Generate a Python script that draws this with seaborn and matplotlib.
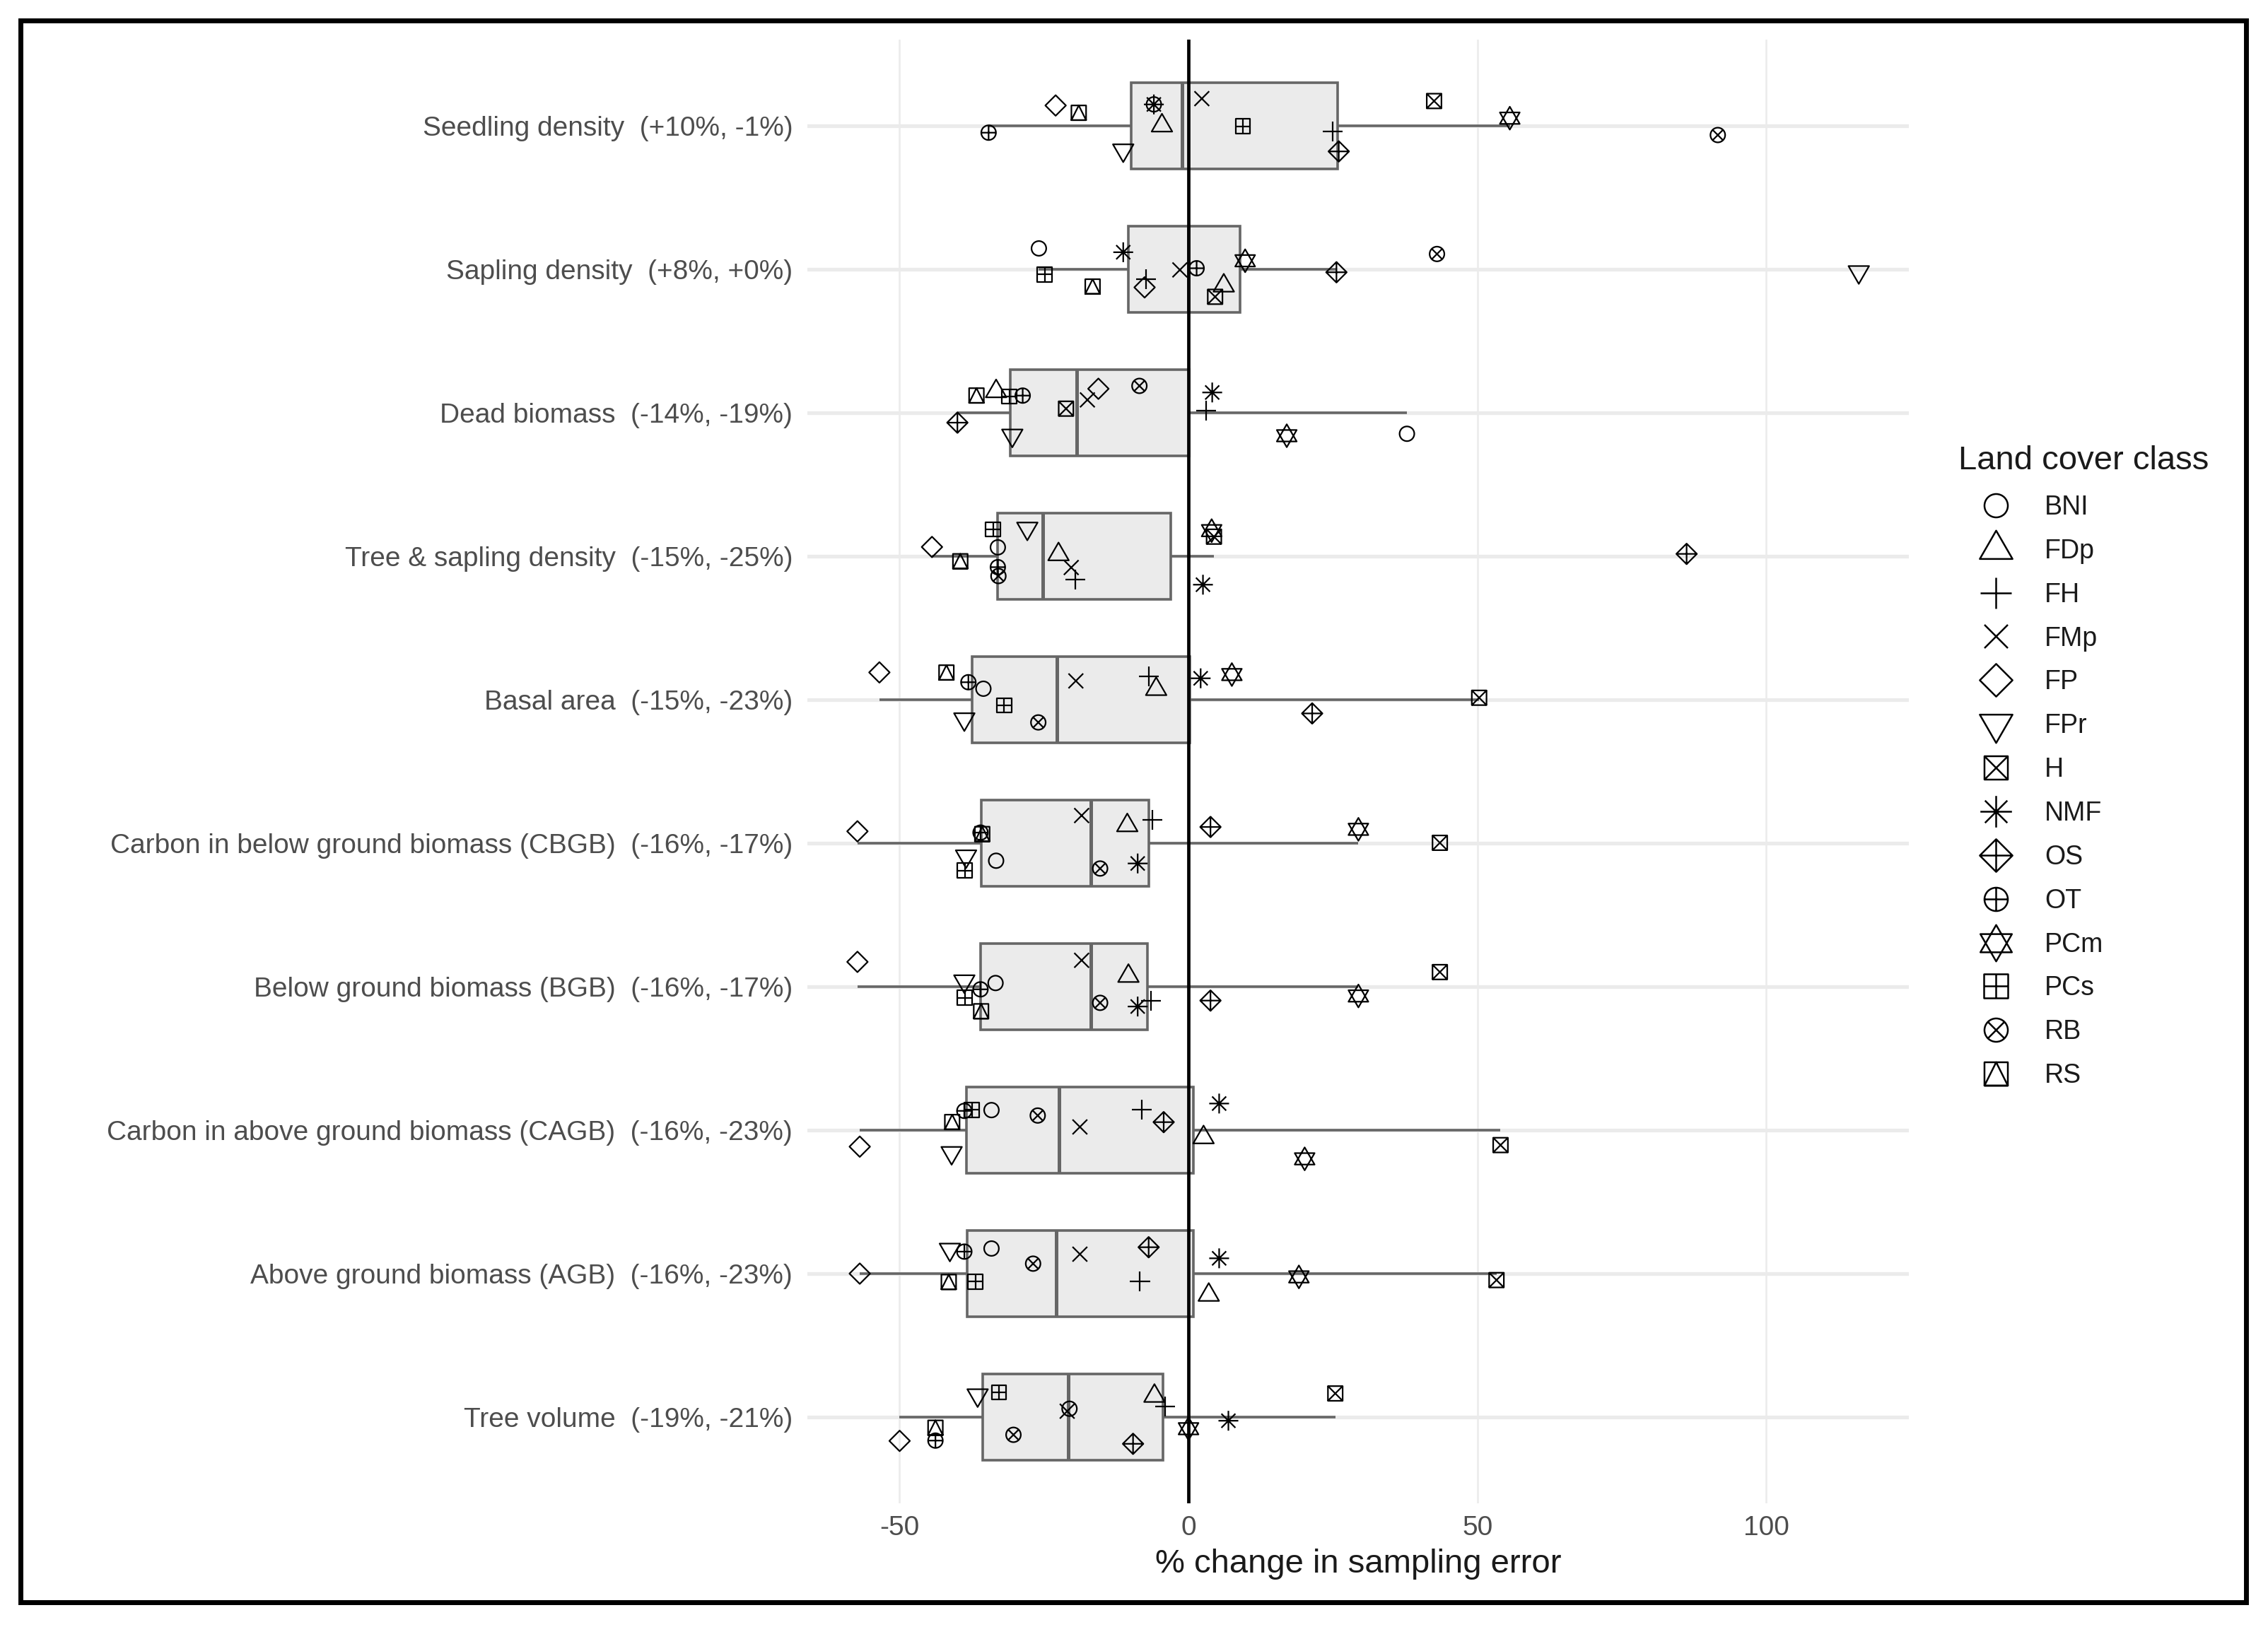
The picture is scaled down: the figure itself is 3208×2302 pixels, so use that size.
import numpy as np
import pandas as pd
import matplotlib
matplotlib.use("Agg")
import matplotlib.pyplot as plt
import seaborn as sns
from matplotlib.path import Path
from matplotlib.markers import MarkerStyle
from matplotlib.transforms import Affine2D
from matplotlib.lines import Line2D
from matplotlib.patches import Rectangle

# ---------------- data ----------------
metrics = [
    "Seedling density  (+10%, -1%)",
    "Sapling density  (+8%, +0%)",
    "Dead biomass  (-14%, -19%)",
    "Tree & sapling density  (-15%, -25%)",
    "Basal area  (-15%, -23%)",
    "Carbon in below ground biomass (CBGB)  (-16%, -17%)",
    "Below ground biomass (BGB)  (-16%, -17%)",
    "Carbon in above ground biomass (CAGB)  (-16%, -23%)",
    "Above ground biomass (AGB)  (-16%, -23%)",
    "Tree volume  (-19%, -21%)",
]
classes = ["BNI", "FDp", "FH", "FMp", "FP", "FPr", "H", "NMF", "OS", "OT", "PCm", "PCs", "RB", "RS"]

#               BNI    FDp    FH     FMp    FP     FPr    H      NMF    OS     OT     PCm    PCs    RB     RS
seedling    = [-6.0,  -4.6,  25.0,   2.3, -23.0, -11.3,  42.5,  -6.0,  26.0, -34.6,  55.6,   9.4,  91.6, -19.0]
sapling     = [-25.9,  6.1,  -7.4,  -1.5,  -7.6, 116.0,   4.6, -11.3,  25.6,   1.4,   9.8, -24.9,  43.0, -16.6]
dead        = [37.8, -33.3,   3.0, -17.5, -15.6, -30.5, -21.2,   4.1, -40.0, -28.7,  17.0, -31.0,  -8.5, -36.7]
tree_sap    = [-33.0, -22.5, -19.6, -20.3, -44.4, -27.9,   4.4,   2.5,  86.2, -33.0,   4.0, -33.8, -32.9, -39.5]
basal       = [-35.5, -5.6,  -6.9, -19.5, -53.5, -38.8,  50.3,   2.1,  21.4, -38.1,   7.5, -31.9, -26.0, -41.9]
cbgb        = [-33.3, -10.6, -6.3, -18.5, -57.3, -38.5,  43.5,  -8.8,   3.8, -36.0,  29.4, -38.7, -15.3, -35.7]
bgb         = [-33.4, -10.4, -6.5, -18.5, -57.3, -38.8,  43.5,  -8.8,   3.8, -36.0,  29.4, -38.7, -15.3, -35.9]
cagb        = [-34.1,  2.6,  -8.1, -18.8, -56.9, -41.0,  54.0,   5.3,  -4.3, -38.8,  20.1, -37.5, -26.1, -40.9]
agb         = [-34.1,  3.5,  -8.4, -18.8, -56.9, -41.3,  53.3,   5.3,  -6.9, -38.8,  19.1, -36.9, -26.9, -41.5]
tree_vol    = [-20.6, -5.9,  -4.0, -21.0, -50.0, -36.5,  25.4,   6.9,  -9.6, -43.8,   0.0, -32.8, -30.3, -43.8]

series = [seedling, sapling, dead, tree_sap, basal, cbgb, bgb, cagb, agb, tree_vol]
x_ticks = [-50, 0, 50, 100]

rows = []
for m, vals in zip(metrics, series):
    for c, v in zip(classes, vals):
        rows.append((m, c, v))
df = pd.DataFrame(rows, columns=["metric", "cls", "value"])

# ---------------- markers (R pch 1..14 look-alikes) ----------------
M, L, C = Path.MOVETO, Path.LINETO, Path.CLOSEPOLY


def poly(pts):
    return Path(pts + [pts[0]], [M] + [L] * (len(pts) - 1) + [C])


def segs(lines):
    verts, codes = [], []
    for a, b in lines:
        verts += [a, b]
        codes += [M, L]
    return Path(verts, codes)


def comp(*paths):
    return Path.make_compound_path(*paths)


circle = Path.unit_circle()
square = poly([(-1, -1), (1, -1), (1, 1), (-1, 1)])
diamond = poly([(0, 1), (1, 0), (0, -1), (-1, 0)])
tri_up = poly([(0, 1), (-0.866, -0.5), (0.866, -0.5)])
tri_dn = poly([(0, -1), (-0.866, 0.5), (0.866, 0.5)])
plus = segs([((-1, 0), (1, 0)), ((0, -1), (0, 1))])
cross = segs([((-1, -1), (1, 1)), ((-1, 1), (1, -1))])
cross_in = segs([((-0.707, -0.707), (0.707, 0.707)), ((-0.707, 0.707), (0.707, -0.707))])

shape = {
    "BNI": (circle, 1.0),
    "FDp": (tri_up, 1.4),
    "FH": (plus, 1.35),
    "FMp": (cross, 1.0),
    "FP": (diamond, 1.4),
    "FPr": (tri_dn, 1.4),
    "H": (comp(square, cross), 1.0),
    "NMF": (comp(plus, cross_in), 1.35),
    "OS": (comp(diamond, plus), 1.4),
    "OT": (comp(circle, plus), 1.0),
    "PCm": (comp(tri_up, tri_dn), 1.35),
    "PCs": (comp(square, plus), 1.0),
    "RB": (comp(circle, cross_in), 1.0),
    "RS": (comp(square, poly([(-1, -1), (0, 1), (1, -1)])), 1.0),
}


def make_marker(path, width):
    v = path.vertices
    rescale = np.max(np.abs(v))
    nw = (v[:, 0].max() - v[:, 0].min()) * 0.5 / rescale
    return MarkerStyle(path, fillstyle="none", transform=Affine2D().scale(width / nw))


markers = {c: make_marker(*shape[c]) for c in classes}

# ---------------- figure ----------------
sns.set_theme(style="white")
plt.rcParams["font.family"] = ["Liberation Sans", "DejaVu Sans"]

W, H = 3208, 2302
fig = plt.figure(figsize=(W / 200, H / 200), dpi=200)
fig.patch.set_facecolor("white")
ax = fig.add_axes([1142 / W, 1 - 2127 / H, (2700 - 1142) / W, (2127 - 56) / H])

box_edge = "#666666"
sns.boxplot(
    data=df, x="value", y="metric", order=metrics, orient="h",
    width=0.6, color="#EBEBEB", saturation=1, linecolor=box_edge, linewidth=1.3,
    showfliers=False, showcaps=False, whis=1.5,
    medianprops=dict(linewidth=1.8, color=box_edge),
    ax=ax,
)

ax.axvline(0, color="black", lw=1.7, zorder=3)

rng = np.random.default_rng(11)
row_index = {m: i for i, m in enumerate(metrics)}
df["ypos"] = df["metric"].map(row_index).astype(float) + rng.uniform(-0.2, 0.2, len(df))

for c in classes:
    sub = df[df["cls"] == c]
    sns.scatterplot(
        data=sub, x="value", y="ypos", marker=markers[c], color="black",
        s=56, linewidth=0.8, ax=ax, zorder=4, legend=False,
    )

lo, hi = df["value"].min(), df["value"].max()
rng_x = hi - lo
ax.set_xlim(lo - 0.05 * rng_x, hi + 0.05 * rng_x)
ax.set_ylim(len(metrics) - 0.4, -0.6)
ax.set_yticks(range(len(metrics)))
ax.set_yticklabels(metrics)
ax.set_xticks(x_ticks)
ax.set_xticklabels([str(t) for t in x_ticks])

ax.set_axisbelow(True)
ax.xaxis.grid(True, color="#EBEBEB", lw=0.9)
ax.yaxis.grid(True, color="#EBEBEB", lw=1.9)
for sp in ax.spines.values():
    sp.set_visible(False)
ax.tick_params(axis="y", length=0, pad=7.5, labelsize=14, labelcolor="#4D4D4D")
ax.tick_params(axis="x", length=0, pad=6, labelsize=14, labelcolor="#4D4D4D")
ax.set_ylabel("")
ax.set_xlabel("% change in sampling error", fontsize=17, color="#1A1A1A", labelpad=4)

# legend
handles = [
    Line2D([], [], linestyle="none", marker=markers[c], color="black",
           markersize=11.9, markeredgewidth=0.9)
    for c in classes
]
leg = fig.legend(
    handles, classes, title="Land cover class", loc="upper left",
    bbox_to_anchor=(2770 / W, 1 - 630 / H), frameon=False, borderpad=0,
    borderaxespad=0, fontsize=13.5, title_fontsize=17, labelspacing=0.69,
    handlelength=2.8, handletextpad=0.45, alignment="left",
)
for t in leg.get_texts():
    t.set_color("#1A1A1A")
leg.get_title().set_color("#1A1A1A")

# outer frame
fig.add_artist(Rectangle((29 / W, 1 - 2267 / H), (3177 - 29) / W, (2267 - 29) / H,
                         transform=fig.transFigure, fill=False, lw=2.5, ec="black"))

fig.savefig("out.png", dpi=200, facecolor="white")
